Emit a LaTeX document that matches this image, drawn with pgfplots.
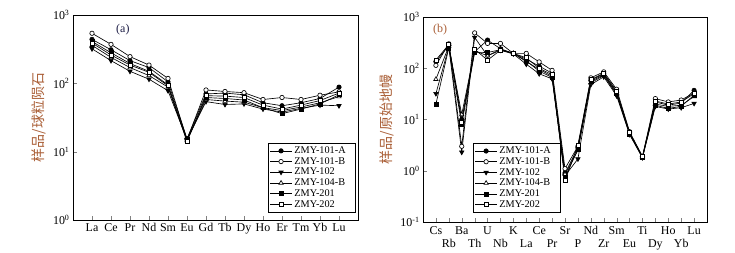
\documentclass[border=0pt]{standalone}
\usepackage{fontspec}
\setmainfont{Liberation Serif}
\newfontfamily\cjk{Noto Sans CJK SC}
\usepackage{pgfplots}
\usepackage{pgfplotstable}
\pgfplotsset{compat=1.18}
\definecolor{labbrown}{RGB}{170,95,55}
\definecolor{labnavy}{RGB}{30,30,70}

% Panel (a): chondrite-normalised REE
\pgfplotstableread{
x  a1   a2   a3   a4   a5   a6
0  440  540  320  360  410  390
1  310  372  215  240  280  260
2  215  246  150  170  195  185
3  170  185  115  130  150  145
4  105  118  78   88   95   92
5  15.5 15   15   14.5 15   14
6  70   80   54   58   62   66
7  72   76   49   55   60   65
8  68   73   50   53   57   62
9  52   58   42   44   44   48
10 47   62   38   40   36   42
11 52   58   43   45   42   48
12 60   67   48   52   50   56
13 88   75   47   64   68   72
}\tabA

% Panel (b): primitive-mantle-normalised spider diagram
\pgfplotstableread{
x  a1   a2   a3   a4   a5   a6
0  135  114  32   61   20   145
1  280  300  260  270  250  290
2  10   3.0  2.3  12.5 8    9
3  210  490  400  220  205  235
4  355  305  175  175  203  144
5  240  305  225  235  230  225
6  195  195  190  195  195  195
7  150  195  120  135  140  160
8  110  133  78   95   88   100
9  80   91   62   70   66   75
10 0.9  1.1  0.8  0.85 0.75 0.64
11 2.8  3.0  1.7  2.5  2.6  3.2
12 58   65   48   52   55   60
13 78   85   68   72   75   80
14 34   39   29   31   32   36
15 5.5  5.8  5.1  5.3  5.2  5.6
16 1.85 1.9  1.8  1.85 1.8  1.9
17 22   25.6 18   20   19   23
18 19   22   16   18   16.5 20
19 21   24   17   19   18   22
20 37   33   20.6 28   30   32
}\tabB

\pgfplotsset{
  myax/.style={
    scale only axis, width=285bp, height=205bp,
    xmin=-1,
    tick align=inside, xtick pos=left, ytick pos=left,
    yminorticks=false, major tick length=4bp,
    axis line style={line width=0.7pt},
    ticklabel style={font=\fontsize{12}{13}\selectfont},
    ylabel style={labbrown, font=\cjk\fontsize{14}{14}\selectfont},
    legend cell align=left,
    legend image code/.code={%
      \draw[mark repeat=2,mark phase=2] plot coordinates {(0bp,0bp) (11bp,0bp) (22bp,0bp)};},
    legend style={font=\fontsize{10.3}{11}\selectfont, draw=black, line width=0.6pt,
      inner sep=1.5bp, row sep=-1.6bp,
      /tikz/column 2/.style={text width=57bp}},
  },
  s1/.style={black, line width=0.65pt, mark size=2.2bp, mark=*, mark options={fill=black, solid}},
  s2/.style={black, line width=0.65pt, mark size=2.2bp, mark=*, mark options={fill=white, solid}},
  s3/.style={black, line width=0.65pt, mark=triangle*, mark size=2.5bp, mark options={fill=black, rotate=180, solid}},
  s4/.style={black, line width=0.65pt, mark=triangle*, mark size=2.5bp, mark options={fill=white, solid}},
  s5/.style={black, line width=0.65pt, mark=square*, mark size=2bp, mark options={fill=black, solid}},
  s6/.style={black, line width=0.65pt, mark=square*, mark size=2bp, mark options={fill=white, solid}},
}

\begin{document}
\begin{tikzpicture}
\useasboundingbox (0,0) rectangle (735bp,253bp);

\begin{semilogyaxis}[myax, at={(73bp,33bp)}, anchor=south west,
  xmax=14, ymin=1, ymax=1000,
  xtick={0,...,13},
  xticklabels={La,Ce,Pr,Nd,Sm,Eu,Gd,Tb,Dy,Ho,Er,Tm,Yb,Lu},
  ytick={1,10,100,1000},
  yticklabels={10\textsuperscript{0},10\textsuperscript{1},10\textsuperscript{2},10\textsuperscript{3}},
  ylabel={样品/球粒陨石},
  legend style={at={(rel axis cs:0.99,0.376)}, anchor=north east},
]
\addplot[s1] table[x=x,y=a1]{\tabA};
\addplot[s2] table[x=x,y=a2]{\tabA};
\addplot[s3] table[x=x,y=a3]{\tabA};
\addplot[s4] table[x=x,y=a4]{\tabA};
\addplot[s5] table[x=x,y=a5]{\tabA};
\addplot[s6] table[x=x,y=a6]{\tabA};
\legend{ZMY-101-A,ZMY-101-B,ZMY-102,ZMY-104-B,ZMY-201,ZMY-202}
\node[labnavy, font=\fontsize{12}{13}\selectfont] at (rel axis cs:0.175,0.93) {(a)};
\end{semilogyaxis}

\begin{semilogyaxis}[myax, at={(423bp,31bp)}, anchor=south west,
  width=284bp,
  xmax=21, ymin=0.1, ymax=1000,
  xtick={0,...,20},
  xticklabel style={align=center, anchor=north},
  xticklabels={{\strut Cs},{\strut\\Rb},{\strut Ba},{\strut\\Th},{\strut U},{\strut\\Nb},{\strut K},{\strut\\La},{\strut Ce},{\strut\\Pr},{\strut Sr},{\strut\\P},{\strut Nd},{\strut\\Zr},{\strut Sm},{\strut\\Eu},{\strut Ti},{\strut\\Dy},{\strut Ho},{\strut\\Yb},{\strut Lu}},
  ytick={0.1,1,10,100,1000},
  yticklabels={10\textsuperscript{-1},10\textsuperscript{0},10\textsuperscript{1},10\textsuperscript{2},10\textsuperscript{3}},
  ylabel={样品/原始地幔},
  legend style={at={(rel axis cs:0.176,0.385)}, anchor=north west},
]
\addplot[s1] table[x=x,y=a1]{\tabB};
\addplot[s2] table[x=x,y=a2]{\tabB};
\addplot[s3] table[x=x,y=a3]{\tabB};
\addplot[s4] table[x=x,y=a4]{\tabB};
\addplot[s5] table[x=x,y=a5]{\tabB};
\addplot[s6] table[x=x,y=a6]{\tabB};
\legend{ZMY-101-A,ZMY-101-B,ZMY-102,ZMY-104-B,ZMY-201,ZMY-202}
\node[labbrown, font=\fontsize{12}{13}\selectfont] at (rel axis cs:0.06,0.94) {(b)};
\end{semilogyaxis}
\end{tikzpicture}
\end{document}
